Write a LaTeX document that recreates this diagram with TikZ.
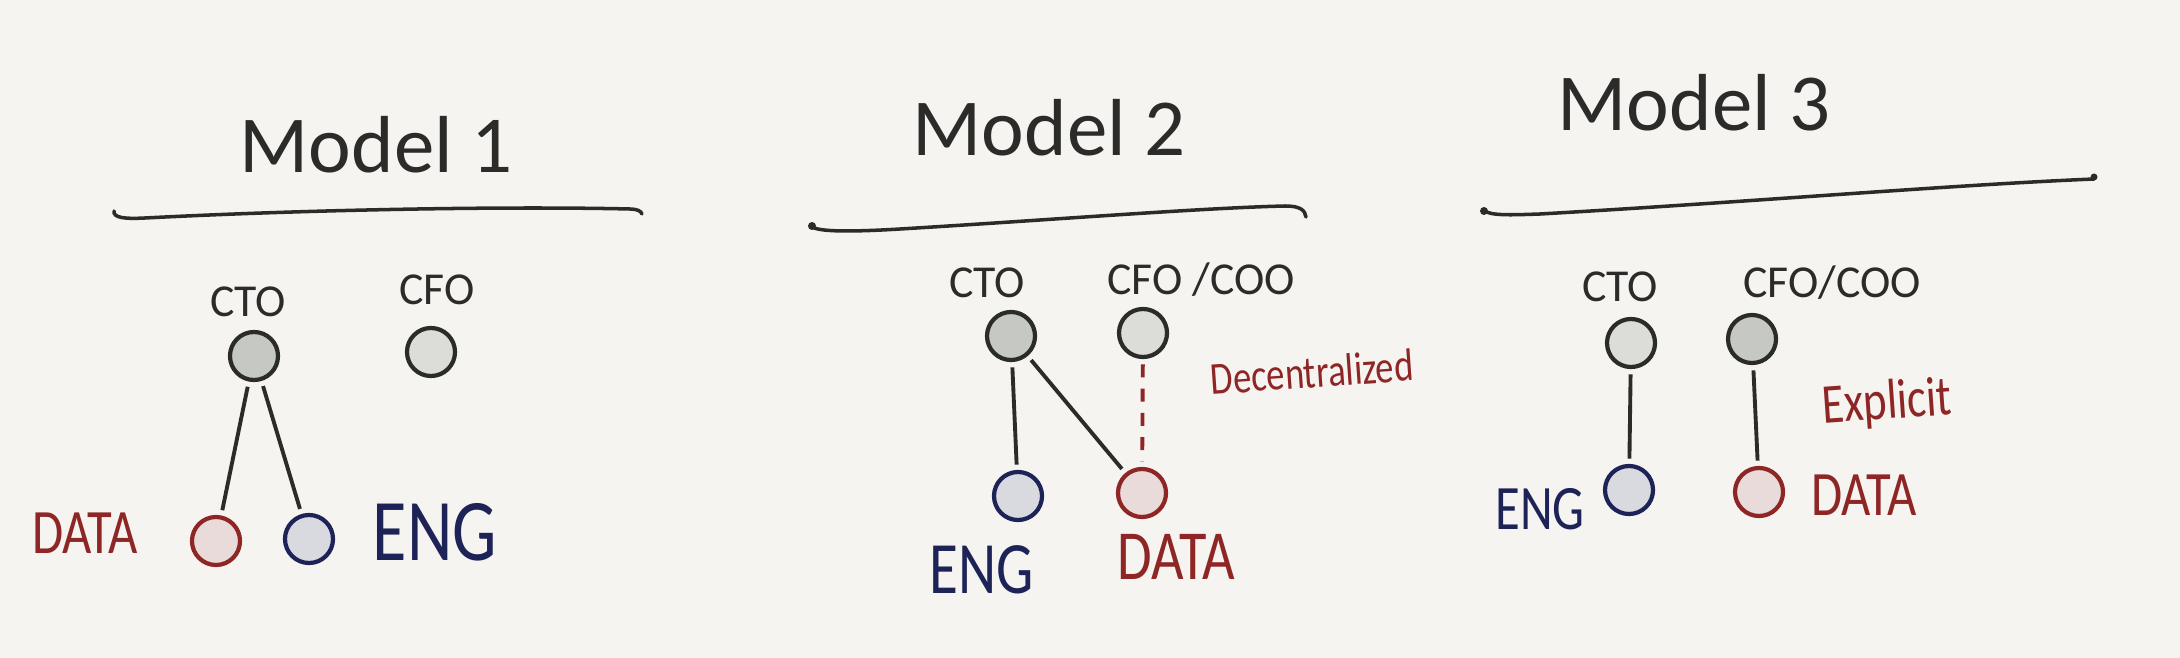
\documentclass[tikz,border=0pt]{standalone}
\usepackage{fontspec}
\setmainfont{Carlito}
\newfontfamily\handfont[FakeStretch=0.8]{Carlito}
\usetikzlibrary{positioning}

\definecolor{paper}{HTML}{F5F4F0}
\definecolor{ink}{HTML}{2B2B29}
\definecolor{darkfill}{HTML}{C6C8C3}
\definecolor{lightfill}{HTML}{DCDCD9}
\definecolor{datared}{HTML}{8F2626}
\definecolor{datafill}{HTML}{E8DBD9}
\definecolor{engblue}{HTML}{1D2356}
\definecolor{engfill}{HTML}{D9DADF}

\tikzset{
  exec/.style={circle,draw=ink,line width=1.2pt,minimum size=0.48cm,inner sep=0pt},
  execdark/.style={exec,fill=darkfill},
  execlight/.style={exec,fill=lightfill},
  datateam/.style={circle,draw=datared,fill=datafill,line width=1.2pt,minimum size=0.48cm,inner sep=0pt},
  engteam/.style={circle,draw=engblue,fill=engfill,line width=1.2pt,minimum size=0.48cm,inner sep=0pt},
  title/.style={text=ink,font=\fontsize{23}{27}\selectfont},
  role/.style={text=ink,font=\fontsize{13}{15}\selectfont},
  datalbl/.style={text=datared,font=\handfont},
  englbl/.style={text=engblue,font=\handfont},
  report/.style={ink,line width=1.1pt,shorten <=1.5pt,shorten >=1.5pt},
  rule/.style={ink,line width=1pt,line cap=round}
}

\begin{document}
\begin{tikzpicture}[x=0.01cm,y=-0.01cm]
	% paper
	\fill[paper] (0,0) rectangle (2180,658);
	\useasboundingbox (0,0) rectangle (2180,658);

	%%% Model 1
	\node[title] (t1) at (376,145) {Model 1};
	\draw[rule] (114,211) .. controls (113,218) and (125,219) .. (145,218)
	  .. controls (300,210) and (500,206) .. (630,209)
	  .. controls (637,209) and (641,211) .. (642,214);
	% roles
	\node[role] (m1ctolbl) at (248,302) {CTO};
	\node[role] (m1cfolbl) at (437,290) {CFO};
	\node[execdark] (m1cto) at (254,356) {};
	\node[execlight] (m1cfo) at (431,352) {};
	\node[datateam] (m1data) at (216,541) {};
	\node[engteam] (m1eng) at (309,539) {};
	% teams
	\node[datalbl,font=\handfont\fontsize{18}{20}\selectfont] (m1datalbl) at (85,533) {DATA};
	\node[englbl,font=\handfont\fontsize{25}{28}\selectfont] (m1englbl) at (435,532) {ENG};
	% reporting lines
	\draw[report] (m1cto) -- (m1data);
	\draw[report] (m1cto) -- (m1eng);

	%%% Model 2
	\node[title] (t2) at (1049,128) {Model 2};
	\draw[rule] (811,226) .. controls (816,232) and (850,232) .. (900,229)
	  .. controls (1050,220) and (1200,208) .. (1285,206)
	  .. controls (1300,206) and (1305,210) .. (1306,217);
	\fill[ink] (812,226) circle (4);
	% roles
	\node[role] (m2ctolbl) at (987,283) {CTO};
	\node[role] (m2cfolbl) at (1201,280) {CFO /COO};
	\node[execdark] (m2cto) at (1011,336) {};
	\node[execlight] (m2cfo) at (1143,333) {};
	\node[engteam] (m2eng) at (1018,496) {};
	\node[datateam] (m2data) at (1142,493) {};
	% teams
	\node[englbl,font=\handfont\fontsize{21}{24}\selectfont] (m2englbl) at (982,570) {ENG};
	\node[datalbl,font=\handfont\fontsize{20}{23}\selectfont] (m2datalbl) at (1176,557) {DATA};
	\node[datalbl,font=\handfont\fontsize{13}{15}\selectfont,rotate=4] (m2note) at (1312,372) {Decentralized};
	% reporting lines
	\draw[report] (m2cto) -- (m2eng);
	\draw[report] (m2cto) -- (m2data);
	\draw[report,datared,dash pattern=on 3.7pt off 3.2pt] (m2cfo) -- (m2data);

	%%% Model 3
	\node[title] (t3) at (1694,103) {Model 3};
	\draw[rule] (1483,210) .. controls (1490,216) and (1510,215) .. (1540,214)
	  .. controls (1750,202) and (1950,185) .. (2094,179);
	\fill[ink] (1484,211) circle (4);
	\fill[ink] (2094,177) circle (3.5);
	% roles
	\node[role] (m3ctolbl) at (1620,287) {CTO};
	\node[role] (m3cfolbl) at (1832,283) {CFO/COO};
	\node[execlight] (m3cto) at (1631,343) {};
	\node[execdark] (m3cfo) at (1752,339) {};
	\node[engteam] (m3eng) at (1629,490) {};
	\node[datateam] (m3data) at (1759,492) {};
	% teams
	\node[englbl,font=\handfont\fontsize{18}{20}\selectfont] (m3englbl) at (1540,509) {ENG};
	\node[datalbl,font=\handfont\fontsize{18}{20}\selectfont] (m3datalbl) at (1864,495) {DATA};
	\node[datalbl,font=\handfont\fontsize{16}{18}\selectfont,rotate=4] (m3note) at (1887,404) {Explicit};
	% reporting lines
	\draw[report] (m3cto) -- (m3eng);
	\draw[report] (m3cfo) -- (m3data);
\end{tikzpicture}
\end{document}
